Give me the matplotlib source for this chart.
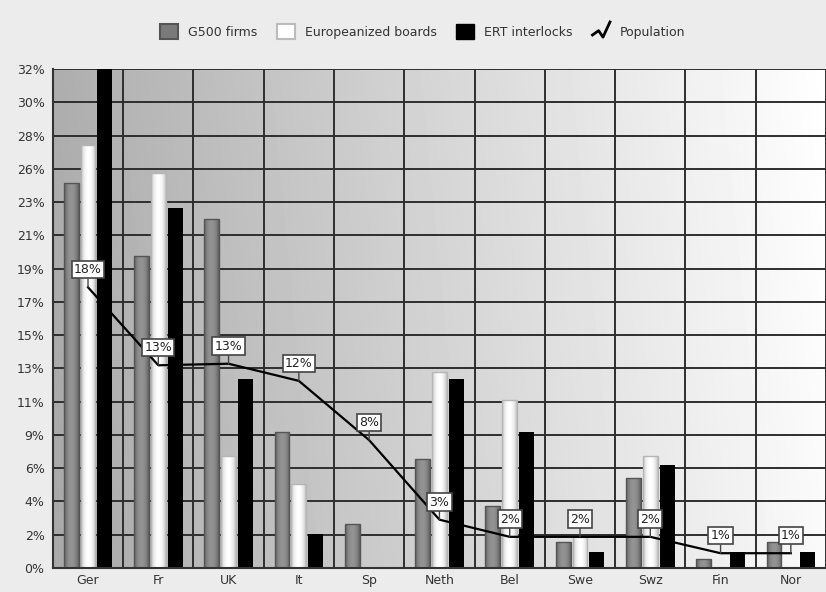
import numpy as np
import matplotlib
matplotlib.use("Agg")
import matplotlib.pyplot as plt
from matplotlib.patches import Rectangle
from matplotlib.lines import Line2D
from matplotlib.legend_handler import HandlerBase

# data (percent)
countries = ["Ger", "Fr", "UK", "It", "Sp", "Neth", "Bel", "Swe", "Swz", "Fin", "Nor"]
g500 = [24.7, 20.0, 22.4, 8.7, 2.8, 7.0, 4.0, 1.7, 5.8, 0.6, 1.7]
europeanized = [27.1, 25.3, 7.2, 5.4, 0.0, 12.6, 10.8, 2.0, 7.2, 0.0, 0.0]
ert = [32.0, 23.1, 12.1, 2.2, 0.0, 12.1, 8.7, 1.0, 6.6, 1.0, 1.0]
population = [18.0, 13.0, 13.1, 12.0, 8.2, 3.1, 2.0, 2.0, 2.0, 0.95, 0.95]
pop_labels = ["18%", "13%", "13%", "12%", "8%", "3%", "2%", "2%", "2%", "1%", "1%"]

ymax = 32
ytick_labels = ["0%", "2%", "4%", "6%", "9%", "11%", "13%", "15%",
                "17%", "19%", "21%", "23%", "26%", "28%", "30%", "32%"]


class ZigzagHandler(HandlerBase):
    # little zigzag glyph used by the original legend for the line series
    def create_artists(self, legend, orig_handle, xdescent, ydescent,
                       width, height, fontsize, trans):
        xs = np.array([0.0, 0.35, 0.6, 1.0]) * width - xdescent
        ys = np.array([0.25, 0.55, 0.1, 1.15]) * height - ydescent
        line = Line2D(xs, ys, color="black", lw=2)
        line.set_transform(trans)
        return [line]


def shade_bars(ax, bars, edge, center):
    # cylinder-like shading, clipped to each bar
    t = np.linspace(0, 1, 40)
    prof = edge + (center - edge) * np.sin(np.pi * t) ** 0.7
    for b in bars:
        h = b.get_height()
        if h <= 0:
            continue
        x0 = b.get_x()
        im = ax.imshow(prof[None, :], extent=[x0, x0 + b.get_width(), 0, h],
                       aspect="auto", cmap="gray", vmin=0, vmax=1,
                       interpolation="bicubic", zorder=2.1)
        im.set_clip_path(b)


fig = plt.figure(figsize=(8.26, 5.92), dpi=100, facecolor="#ececec")
ax = fig.add_axes([0.064, 0.0405, 0.936, 0.843])

x = np.arange(len(countries))
width = 0.21
step = 0.24

# background gradient, dark left to light right
gx = np.linspace(0.66, 0.98, 200)
gy = np.linspace(0.02, 0.0, 50)
grad = np.clip(gx[None, :] + gy[:, None], 0, 1)
ax.imshow(grad, extent=[-0.5, len(countries) - 0.5, 0, ymax], aspect="auto",
          cmap="gray", vmin=0, vmax=1, interpolation="bicubic", zorder=0)

# grid
for yv in np.linspace(0, ymax, 16):
    ax.axhline(yv, color="#2e2e2e", lw=1.4, zorder=1)
for xv in np.arange(-0.5, len(countries), 1):
    ax.axvline(xv, color="#2e2e2e", lw=1.4, zorder=1)

b1 = ax.bar(x - step, g500, width, color="#7a7a7a", zorder=2)
b2 = ax.bar(x, europeanized, width, color="#f0f0f0", zorder=2)
b3 = ax.bar(x + step, ert, width, color="black", zorder=2)
shade_bars(ax, b1, 0.36, 0.58)
shade_bars(ax, b2, 0.74, 1.0)
ax.bar(x - step, g500, width, fill=False, edgecolor="#555555", lw=1, zorder=2.2)
ax.bar(x, europeanized, width, fill=False, edgecolor="#b5b5b5", lw=1, zorder=2.2)

ax.plot(x, population, color="black", lw=1.6, zorder=3)
for xi, yi, lbl in zip(x, population, pop_labels):
    ax.annotate(lbl, (xi, yi), xytext=(0, 8), textcoords="offset points",
                ha="center", va="bottom", fontsize=9, color="#222222",
                bbox=dict(boxstyle="square,pad=0.18", fc="white", ec="#444444", lw=1.2),
                arrowprops=dict(arrowstyle="-", color="#444444", lw=1,
                                shrinkA=0, shrinkB=0),
                zorder=4)

ax.set_xlim(-0.5, len(countries) - 0.5)
ax.set_ylim(0, ymax)
ax.set_yticks(np.linspace(0, ymax, 16))
ax.set_yticklabels(ytick_labels)
ax.set_xticks(x)
ax.set_xticklabels(countries)
ax.tick_params(length=0, labelsize=9, colors="#333333")
ax.tick_params(axis="y", pad=6)
ax.tick_params(axis="x", pad=4)
for s in ["top", "right"]:
    ax.spines[s].set_visible(False)
for s in ["left", "bottom"]:
    ax.spines[s].set_color("#333333")
    ax.spines[s].set_linewidth(1.5)

handles = [Rectangle((0, 0), 1, 1, fc="#7a7a7a", ec="#555555", lw=1.5),
           Rectangle((0, 0), 1, 1, fc="white", ec="#bbbbbb", lw=1.5),
           Rectangle((0, 0), 1, 1, fc="black", ec="black"),
           Line2D([], [], color="black")]
labels = ["G500 firms", "Europeanized boards", "ERT interlocks", "Population"]
fig.legend(handles, labels, loc="center", bbox_to_anchor=(0.512, 0.947),
           ncol=4, frameon=False, fontsize=9, handlelength=1.4,
           handleheight=1.4, columnspacing=1.6, handletextpad=0.8,
           labelcolor="#333333",
           handler_map={Line2D: ZigzagHandler()})

fig.savefig("out.png", dpi=100, facecolor=fig.get_facecolor())
